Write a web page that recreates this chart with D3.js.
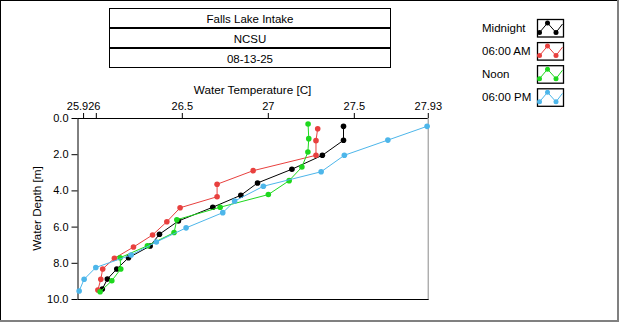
<!DOCTYPE html>
<html><head><meta charset="utf-8">
<script src="https://cdn.jsdelivr.net/npm/d3@7"></script>
<style>
html,body{margin:0;padding:0;background:#fff;}
svg{display:block;}
text{font-family:"Liberation Sans",Arial,sans-serif;fill:#000;}
</style></head>
<body>
<script>
// ---- data ----
const titleLines = ["Falls Lake Intake", "NCSU", "08-13-25"];
const seriesNames = ["Midnight", "06:00 AM", "Noon", "06:00 PM"];
const seriesColors = ["#000000", "#e8403e", "#1ed81e", "#4db6ea"];
const midnightTemp = [27.44, 27.44, 27.317, 27.14, 26.94, 26.843, 26.68, 26.48, 26.37, 26.316, 26.19, 26.122, 26.067, 26.038];
const midnightDepth = [0.46, 1.23, 2.06, 2.83, 3.59, 4.27, 4.93, 5.69, 6.42, 7.07, 7.72, 8.34, 8.90, 9.45];
const amTemp = [27.29, 27.28, 27.28, 26.915, 26.705, 26.705, 26.49, 26.413, 26.33, 26.219, 26.108, 26.04, 26.029, 26.012];
const amDepth = [0.59, 1.25, 2.06, 2.91, 3.66, 4.35, 4.96, 5.73, 6.46, 7.13, 7.75, 8.34, 8.91, 9.50];
const noonTemp = [27.234, 27.238, 27.233, 27.198, 27.124, 27.003, 26.723, 26.471, 26.455, 26.30, 26.141, 26.145, 26.093, 26.025];
const noonDepth = [0.33, 1.14, 1.88, 2.71, 3.46, 4.23, 4.93, 5.62, 6.33, 7.06, 7.72, 8.34, 8.99, 9.60];
const pmTemp = [27.926, 27.698, 27.445, 27.31, 26.974, 26.807, 26.738, 26.525, 26.352, 26.205, 26.0, 25.932, 25.903];
const pmDepth = [0.46, 1.22, 2.06, 2.97, 3.77, 4.59, 5.23, 6.07, 6.85, 7.57, 8.26, 8.91, 9.56];
const xTickValues = [25.926, 26, 26.5, 27, 27.5, 27.93];
const xTickLabels = ["25.926", "", "26.5", "27", "27.5", "27.93"];
const yTickValues = [0, 2, 4, 6, 8, 10];
const xTitle = "Water Temperature [C]";
const yTitle = "Water Depth [m]";

const temps = [midnightTemp, amTemp, noonTemp, pmTemp];
const depths = [midnightDepth, amDepth, noonDepth, pmDepth];

// ---- layout ----
const W = 620, H = 324;
const L = 77.5, R = 427.7, T = 118, B = 299;
const svg = d3.select("body").append("svg").attr("width", W).attr("height", H);

// outer frame
svg.append("line").attr("x1",0).attr("x2",618).attr("y1",0.5).attr("y2",0.5).attr("stroke","#000");
svg.append("line").attr("x1",0.5).attr("x2",0.5).attr("y1",0).attr("y2",321).attr("stroke","#000");
svg.append("rect").attr("x",617).attr("y",0).attr("width",2).attr("height",322).attr("fill","#808080");
svg.append("rect").attr("x",0).attr("y",320).attr("width",619).attr("height",2).attr("fill","#808080");

// title boxes
titleLines.forEach((t,i)=>{
  svg.append("rect").attr("x",109.5).attr("y",8.5+20*i).attr("width",281).attr("height",19)
    .attr("fill","none").attr("stroke","#000");
  svg.append("text").attr("x",250).attr("y",22.5+20*i).attr("text-anchor","middle")
    .attr("font-size","11.5px").text(t);
});

const x = d3.scaleLinear().domain([25.8935, 27.9295]).range([L, R]);
const y = d3.scaleLinear().domain([0, 10]).range([T, B]);

// plot frame
svg.append("line").attr("x1",R+0.5).attr("x2",R+0.5).attr("y1",T).attr("y2",B).attr("stroke","#8a8a8a");

const xAxis = d3.axisTop(x).tickValues(xTickValues).tickSize(5).tickPadding(3)
  .tickFormat((d,i)=>xTickLabels[i]);
const gx = svg.append("g").attr("transform",`translate(0,${T})`).call(xAxis);
gx.select(".domain").attr("d",`M${L},0.5H${R}`).attr("stroke","#000");
gx.selectAll("text").attr("font-size","11px").attr("font-family","Liberation Sans, Arial, sans-serif");

const yAxis = d3.axisLeft(y).tickValues(yTickValues).tickSize(6).tickPadding(3)
  .tickFormat(d3.format(".1f"));
const gy = svg.append("g").attr("transform",`translate(${L},0)`).call(yAxis);
gy.select(".domain").attr("d",`M0.5,${T}V${B}`).attr("stroke","#000");
gy.selectAll("text").attr("font-size","11px").attr("font-family","Liberation Sans, Arial, sans-serif");

svg.append("line").attr("x1",L).attr("x2",R+1).attr("y1",B+0.5).attr("y2",B+0.5).attr("stroke","#000");

svg.append("text").attr("x",(L+R)/2).attr("y",94).attr("text-anchor","middle").attr("font-size","11.7px").text(xTitle);
svg.append("text").attr("transform",`translate(41,${(T+B)/2}) rotate(-90)`).attr("text-anchor","middle")
  .attr("font-size","11.7px").text(yTitle);

// series
const line = d3.line().x(d=>x(d[0])).y(d=>y(d[1]));
temps.forEach((ts,s)=>{
  const pts = ts.map((t,i)=>[t, depths[s][i]]);
  const g = svg.append("g");
  g.append("path").attr("d", line(pts)).attr("fill","none").attr("stroke",seriesColors[s]).attr("stroke-width",1);
  g.selectAll("circle").data(pts).join("circle")
    .attr("cx",d=>x(d[0])).attr("cy",d=>y(d[1])).attr("r",2.8).attr("fill",seriesColors[s]);
});

// legend
seriesNames.forEach((n,i)=>{
  const cy = 28 + 23.1*i;
  svg.append("text").attr("x",482).attr("y",cy+4).attr("font-size","11.5px").text(n);
  const bx = 537, by = cy - 9;
  svg.append("rect").attr("x",bx+0.5).attr("y",by+0.5).attr("width",26).attr("height",17.5)
    .attr("fill","#fff").attr("stroke","#000").attr("stroke-width",1.3);
  const v = [[bx+2.5,by+13.5],[bx+10.5,by+4],[bx+19,by+13.5],[bx+25.5,by+5]];
  svg.append("path").attr("d",d3.line()(v)).attr("fill","none").attr("stroke",seriesColors[i]).attr("stroke-width",1);
  v.slice(0,3).forEach(p=>{
    svg.append("circle").attr("cx",p[0]).attr("cy",p[1]).attr("r",2.5).attr("fill",seriesColors[i]);
  });
});
</script>
</body></html>
